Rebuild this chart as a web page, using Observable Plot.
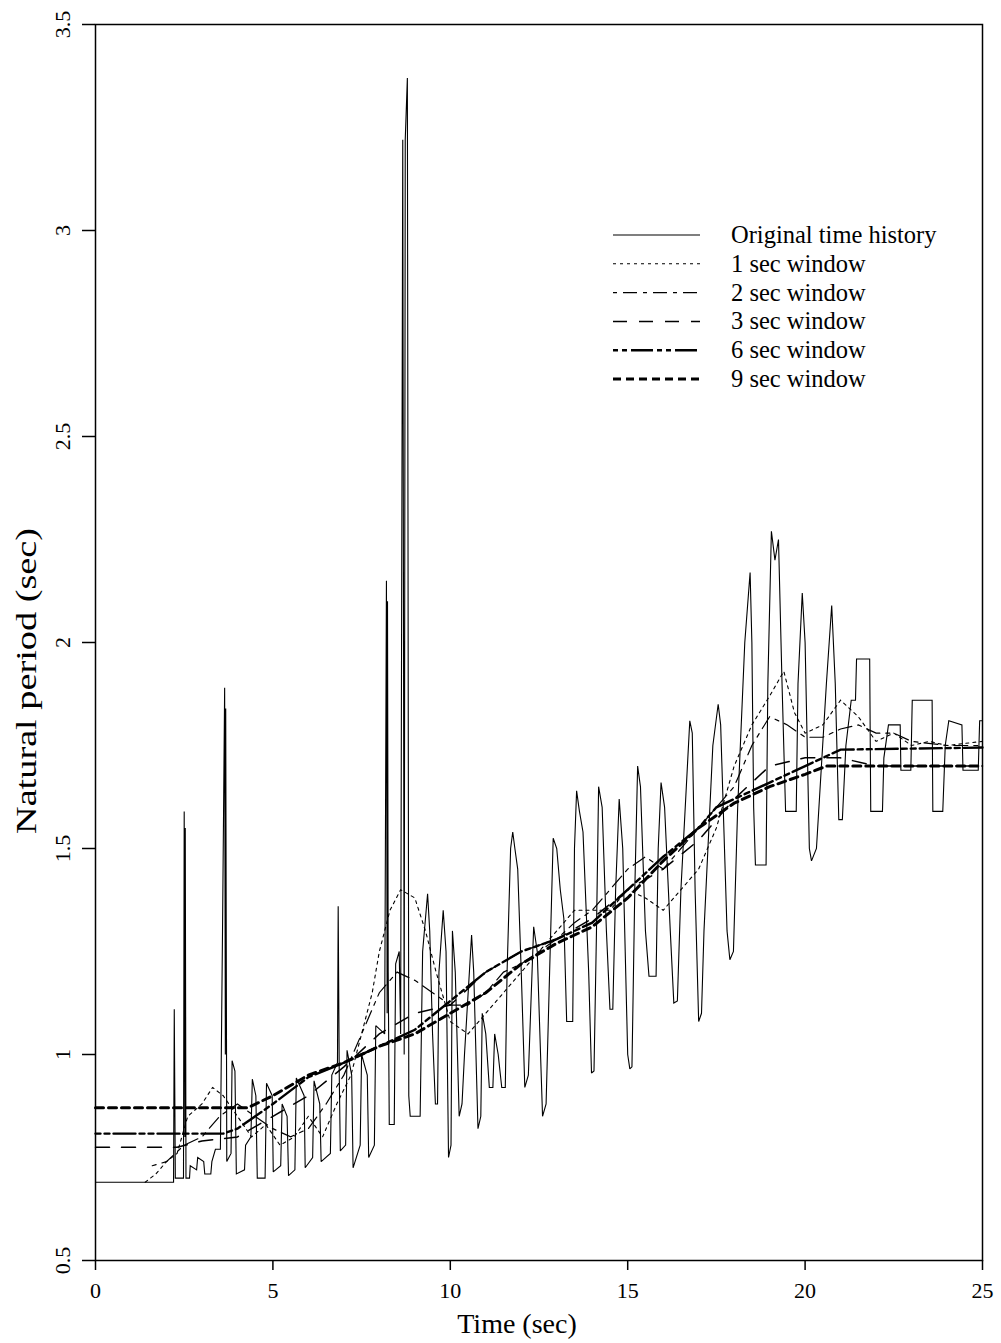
<!DOCTYPE html>
<html><head><meta charset="utf-8">
<script src="https://cdn.jsdelivr.net/npm/d3@7"></script>
<script src="https://cdn.jsdelivr.net/npm/@observablehq/plot@0.6"></script>
<style>
body{margin:0;background:#fff;}
#chart{width:1001px;height:1343px;}
#chart svg, #chart svg text{font-family:'Liberation Serif','DejaVu Serif',serif !important;}
</style></head><body><div id="chart"></div>
<script>
// ---- tick labels ----
const xTicks = [0, 5, 10, 15, 20, 25];
const yTicks = [0.5, 1, 1.5, 2, 2.5, 3, 3.5];
const xLabel = "Time (sec)";
const yLabel = "Natural period (sec)";
const seriesNames = ["Original time history", "1 sec window", "2 sec window", "3 sec window", "6 sec window", "9 sec window"];

// ---- Original time history ----
const origT = [0,2.2,2.22,2.25,2.48,2.5,2.52,2.53,2.55,2.65,2.67,2.85,2.88,3.05,3.08,3.25,3.28,3.38,3.52,3.58,3.64,3.66,3.67,3.7,3.82,3.85,3.93,3.97,4.2,4.23,4.38,4.42,4.52,4.56,4.78,4.82,4.98,5.01,5.22,5.26,5.4,5.44,5.62,5.66,5.88,5.91,6.12,6.16,6.32,6.36,6.62,6.66,6.82,6.84,6.87,6.9,7.05,7.09,7.22,7.26,7.46,7.5,7.66,7.7,7.86,7.9,8.15,8.2,8.22,8.23,8.25,8.28,8.42,8.46,8.56,8.6,8.66,8.7,8.73,8.79,8.83,8.87,9.15,9.22,9.36,9.42,9.5,9.58,9.64,9.68,9.8,9.88,9.95,10.02,10.06,10.14,10.25,10.33,10.4,10.6,10.66,10.78,10.86,10.9,11.0,11.1,11.2,11.25,11.35,11.45,11.55,11.6,11.7,11.76,11.82,11.9,12.0,12.1,12.2,12.35,12.45,12.6,12.7,12.9,13.0,13.1,13.2,13.28,13.45,13.5,13.56,13.64,13.74,13.9,13.98,14.05,14.12,14.18,14.28,14.4,14.5,14.58,14.66,14.76,14.86,15.0,15.06,15.12,15.2,15.28,15.36,15.5,15.6,15.8,15.86,15.94,16.04,16.2,16.3,16.4,16.5,16.75,16.82,16.9,17.0,17.08,17.15,17.4,17.55,17.62,17.8,17.88,17.98,18.1,18.3,18.45,18.5,18.55,18.6,18.9,18.95,19.05,19.15,19.25,19.35,19.45,19.75,19.8,19.92,20.0,20.12,20.18,20.32,20.6,20.75,20.85,20.95,21.05,21.15,21.3,21.42,21.45,21.82,21.85,22.18,22.22,22.35,22.68,22.7,22.98,23.02,23.58,23.6,23.88,23.95,24.05,24.42,24.45,24.88,24.92,25];
const origV = [0.69,0.69,1.11,0.70,0.70,1.59,0.80,1.55,0.70,0.70,0.73,0.72,0.75,0.74,0.71,0.71,0.74,0.77,0.77,1.3,1.89,1.0,1.84,0.74,0.76,0.985,0.96,0.71,0.72,0.78,0.80,0.94,0.90,0.70,0.70,0.93,0.90,0.715,0.73,0.88,0.85,0.706,0.72,0.943,0.90,0.725,0.75,0.936,0.88,0.74,0.76,0.95,0.98,1.36,0.95,0.766,0.78,1.01,0.95,0.725,0.78,1.0,0.95,0.75,0.78,1.07,1.05,2.15,1.1,2.1,1.2,0.83,0.83,1.22,1.25,1.05,3.22,1.0,3.22,3.37,0.9,0.85,0.85,1.25,1.39,1.3,1.05,0.88,0.88,1.2,1.35,1.25,0.75,0.78,1.30,1.2,0.85,0.88,1.0,1.29,1.2,0.82,0.85,1.1,1.05,0.92,0.92,1.05,1.0,0.92,0.92,1.2,1.5,1.54,1.5,1.45,1.2,0.92,0.95,1.31,1.25,0.85,0.88,1.525,1.5,1.4,1.33,1.08,1.08,1.5,1.64,1.59,1.54,1.2,0.955,0.96,1.3,1.65,1.6,1.3,1.11,1.11,1.4,1.62,1.5,1.0,0.965,0.97,1.4,1.70,1.65,1.3,1.19,1.19,1.5,1.66,1.6,1.3,1.125,1.13,1.4,1.81,1.78,1.4,1.08,1.1,1.3,1.75,1.85,1.8,1.3,1.23,1.25,1.6,2.0,2.17,2.0,1.6,1.46,1.46,1.9,2.27,2.2,2.25,1.9,1.59,1.59,1.9,2.12,2.0,1.5,1.47,1.5,1.9,2.09,1.9,1.57,1.57,1.75,1.86,1.86,1.96,1.96,1.59,1.59,1.72,1.80,1.80,1.69,1.69,1.86,1.86,1.59,1.59,1.75,1.81,1.80,1.69,1.69,1.81,1.81];

// ---- 1 sec window ----
const w1T = [1.4,1.7,2.0,2.3,2.6,3.0,3.3,3.6,4.0,4.4,4.8,5.2,5.6,6.0,6.4,6.8,7.2,7.5,7.8,8.0,8.3,8.6,9.0,9.3,9.6,10.0,10.5,11.0,11.5,12.0,12.5,13.0,13.5,14.0,14.5,15.0,15.5,16.0,16.5,17.0,17.5,18.0,18.5,19.0,19.4,19.7,20.0,20.5,21.0,21.5,22.0,22.5,23.0,23.5,24.0,25.0];
const w1V = [0.69,0.71,0.74,0.76,0.85,0.88,0.92,0.90,0.85,0.80,0.83,0.78,0.80,0.85,0.80,0.88,0.95,1.05,1.15,1.25,1.35,1.40,1.38,1.30,1.20,1.08,1.05,1.10,1.15,1.20,1.25,1.30,1.35,1.35,1.35,1.40,1.38,1.35,1.40,1.45,1.55,1.70,1.80,1.87,1.93,1.83,1.78,1.80,1.86,1.82,1.76,1.78,1.75,1.76,1.75,1.76];

// ---- 2 sec window ----
const w2T = [1.6,2.0,2.5,3.0,3.5,4.0,4.5,5.0,5.5,6.0,6.5,7.0,7.5,8.0,8.5,9.0,9.5,10.0,10.5,11.0,11.5,12.0,12.5,13.0,13.5,14.0,14.5,15.0,15.5,16.0,16.5,17.0,17.5,18.0,18.5,19.0,19.5,20.0,20.5,21.0,21.5,22.0,22.5,23.0,24.0,25.0];
const w2V = [0.73,0.74,0.78,0.80,0.85,0.88,0.85,0.82,0.80,0.82,0.88,0.95,1.05,1.15,1.20,1.18,1.15,1.12,1.12,1.15,1.20,1.22,1.25,1.28,1.32,1.35,1.40,1.45,1.48,1.45,1.50,1.55,1.60,1.65,1.75,1.82,1.80,1.77,1.77,1.79,1.80,1.78,1.78,1.76,1.75,1.75];

// ---- 3 sec window ----
const w3T = [0,2.3,3.0,4.0,5.0,6.0,7.0,8.0,9.0,10.0,11.0,12.0,13.0,14.0,15.0,16.0,17.0,18.0,19.0,20.0,21.0,22.0,23.0,24.0,25.0];
const w3V = [0.775,0.775,0.79,0.80,0.85,0.90,0.97,1.05,1.10,1.12,1.20,1.25,1.28,1.33,1.40,1.45,1.52,1.62,1.70,1.72,1.72,1.70,1.70,1.70,1.70];

// ---- 6 sec window ----
const w6T = [0,3.6,4.0,5.0,6.0,7.0,8.0,9.0,10.0,11.0,12.0,13.0,14.0,15.0,16.0,17.0,17.5,18.0,19.0,20.0,20.5,21.0,25.0];
const w6V = [0.808,0.808,0.82,0.88,0.945,0.98,1.02,1.06,1.13,1.20,1.25,1.28,1.32,1.40,1.48,1.55,1.60,1.62,1.66,1.70,1.72,1.74,1.745];

// ---- 9 sec window ----
const w9T = [0,4.3,5.0,6.0,7.0,8.0,9.0,10.0,11.0,12.0,13.0,14.0,15.0,16.0,17.0,18.0,19.0,20.0,20.6,25.0];
const w9V = [0.871,0.871,0.90,0.95,0.98,1.02,1.05,1.10,1.15,1.22,1.27,1.31,1.38,1.47,1.55,1.61,1.65,1.68,1.70,1.70];

const styles = [
  {dash: null, width: 1.1},
  {dash: "3,4", width: 1.1},
  {dash: "4,6,14,6", width: 1.2},
  {dash: "14,12", width: 1.5},
  {dash: "5,4,5,4,22,4", width: 2.4},
  {dash: "8,5", width: 3}
];
const rawSeries = [[origT, origV], [w1T, w1V], [w2T, w2V], [w3T, w3V], [w6T, w6V], [w9T, w9V]];
const series = rawSeries.map(([T, V], i) => ({name: seriesNames[i], data: T.map((t, j) => ({t, v: V[j]})), ...styles[i]}));

const font = "'Liberation Serif', 'DejaVu Serif', serif";
const lineMarks = series.slice().reverse().map(s => Plot.line(s.data, {
  x: "t", y: "v", stroke: "#000", strokeWidth: s.width,
  strokeDasharray: s.dash, strokeLinejoin: "miter", strokeMiterlimit: 2
}));

const plot = Plot.plot({
  width: 1001, height: 1343,
  marginLeft: 95, marginRight: 19, marginTop: 24, marginBottom: 83,
  style: {fontFamily: font, background: "#fff", color: "#000"},
  x: {domain: [0, 25]},
  y: {domain: [0.5, 3.5]},
  marks: [
    ...lineMarks,
    Plot.frame({stroke: "#000", strokeWidth: 1.5}),
    Plot.axisX({ticks: xTicks, tickSize: 10, tickPadding: 12, fontSize: 22, label: null, strokeWidth: 1.5}),
    Plot.axisY({ticks: yTicks, tickSize: 13, tickFormat: () => "", label: null, strokeWidth: 1.5}),
    Plot.text(yTicks, {y: d => d, text: d => String(d), frameAnchor: "left", dx: -33, rotate: -90, fontSize: 22, lineAnchor: "middle", textAnchor: "middle", fill: "#000"})
  ]
});
document.getElementById("chart").appendChild(plot);

const svg = d3.select(plot);
svg.append("text").attr("x", 517).attr("y", 1333).attr("text-anchor", "middle")
  .attr("font-family", font).attr("font-size", 28).attr("fill", "#000").text(xLabel);
svg.append("text").attr("transform", "translate(36,681) rotate(-90)").attr("text-anchor", "middle")
  .attr("font-family", font).attr("font-size", 29).attr("fill", "#000")
  .attr("textLength", 306).attr("lengthAdjust", "spacingAndGlyphs").text(yLabel);

// legend
const lg = svg.append("g");
series.forEach((s, i) => {
  const y = 235 + i * 28.8;
  lg.append("line").attr("x1", 613).attr("x2", 700).attr("y1", y).attr("y2", y)
    .attr("stroke", "#000").attr("stroke-width", s.width)
    .attr("stroke-dasharray", s.dash);
  lg.append("text").attr("x", 731).attr("y", y + 8).attr("text-anchor", "start")
    .attr("font-family", font).attr("font-size", 24.5).attr("fill", "#000").text(s.name);
});
</script></body></html>
